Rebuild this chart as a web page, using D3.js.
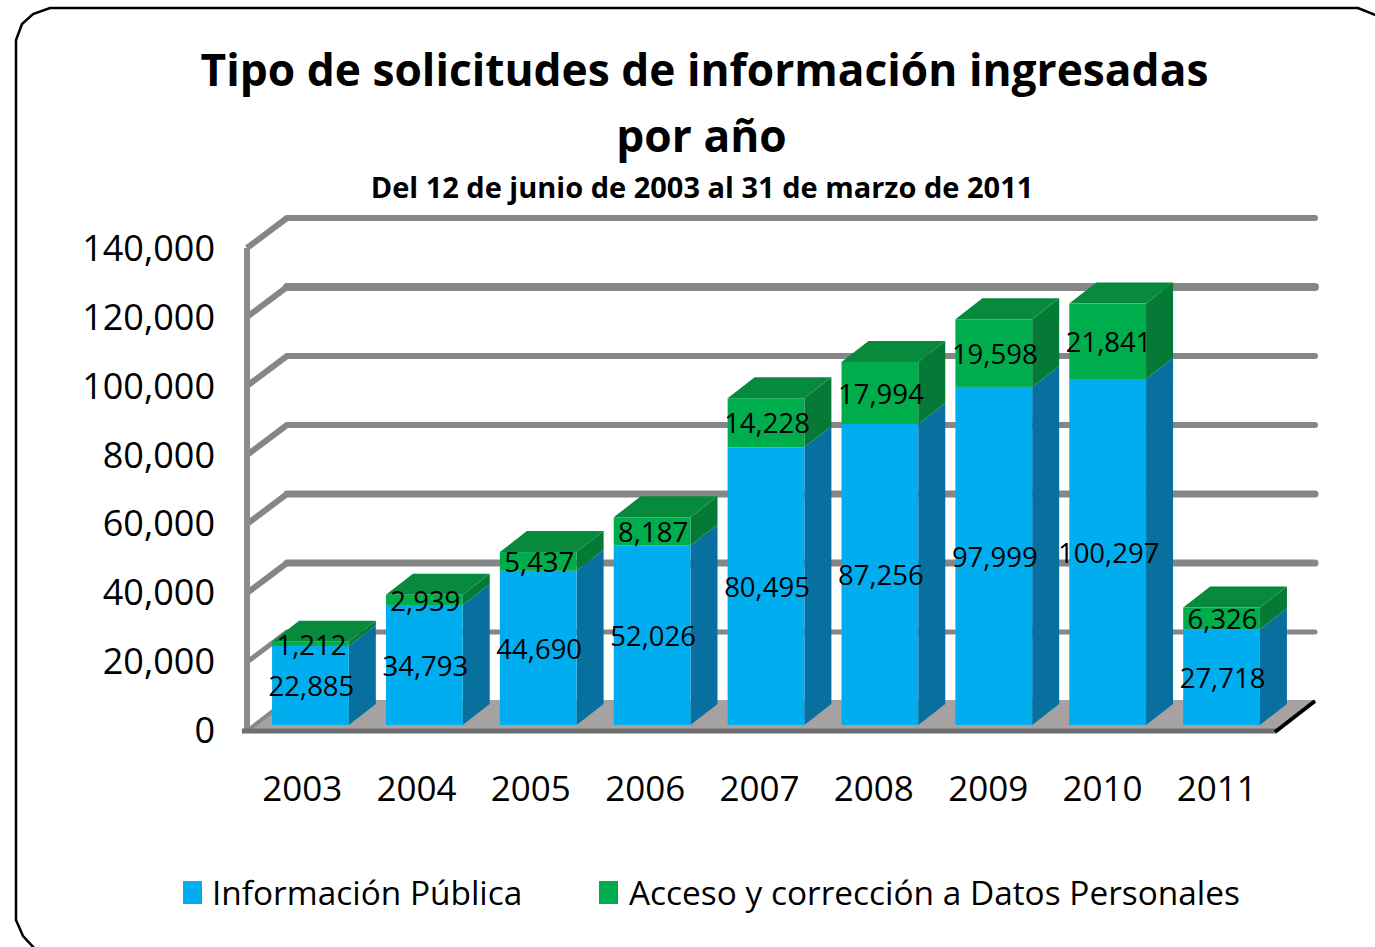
<!DOCTYPE html>
<html><head><meta charset="utf-8">
<script src="https://cdn.jsdelivr.net/npm/d3@7/dist/d3.min.js"></script>
<style>html,body{margin:0;padding:0;background:#fff;overflow:hidden}svg{display:block}</style>
</head><body><svg id="c" width="1375" height="947"></svg>
<script>
const years = ["2003","2004","2005","2006","2007","2008","2009","2010","2011"];
const informacionPublica = [22885,34793,44690,52026,80495,87256,97999,100297,27718];
const accesoCorreccion = [1212,2939,5437,8187,14228,17994,19598,21841,6326];
const yTicks = [0,20000,40000,60000,80000,100000,120000,140000];
const gridWidths = [0,5,7,7,6,6,8,6];
const titleLines = ["Tipo de solicitudes de información ingresadas","por año"];
const subtitle = "Del 12 de junio de 2003 al 31 de marzo de 2011";
const seriesNames = ["Información Pública","Acceso y corrección a Datos Personales"];

const FONT = "'Open Sans','Noto Sans',sans-serif";
const svg = d3.select("#c");
const fmt = d3.format(",");
const depth = {dx:40, dy:-30};
const barDepth = {dx:27, dy:-21};
const y = d3.scaleLinear().domain([0,140000]).range([731,248]);
const yLabel = d3.scaleLinear().domain([0,140000]).range([731,249]);
const x = d3.scaleBand().domain(years).range([247,1276]).paddingInner(0.326).paddingOuter(0.163);
const xBar = d3.scaleBand().domain(years).range([247,1272]).paddingInner(0.326).paddingOuter(0.163);
const barShift = 6.5, barLift = 6;

// frame
svg.append("path").attr("fill","none").attr("stroke","#000").attr("stroke-width",2.5)
  .attr("d","M36 950 L23 936 L16 920 L16 40 L22 24 L33 14 L50 8 L1358 8 L1380 17");

// floor
const floor = d3.line()([[247,731],[1276,731],[1316,700],[287,700]]);
svg.append("path").attr("d",floor+"Z").attr("fill","#a6a2a2");

// gridlines + wall
const grid = svg.append("g").attr("stroke","#868686").attr("fill","none");
yTicks.slice(1).forEach((t,i)=>{
  const w = gridWidths[i+1];
  grid.append("line").attr("x1",247).attr("y1",y(t)).attr("x2",247+depth.dx).attr("y2",y(t)+depth.dy).attr("stroke-width",Math.min(w,6));
  grid.append("line").attr("x1",247+depth.dx).attr("y1",y(t)+depth.dy).attr("x2",1315).attr("y2",y(t)+depth.dy).attr("stroke-width",w).attr("stroke-linecap","round");
});
grid.append("line").attr("x1",247).attr("y1",733).attr("x2",247).attr("y2",y(140000)).attr("stroke-width",6).attr("stroke","#8c8c8c");
grid.append("line").attr("x1",247).attr("y1",731).attr("x2",287).attr("y2",700).attr("stroke-width",4);
svg.append("line").attr("x1",242).attr("y1",731).attr("x2",1276).attr("y2",731).attr("stroke","#6f6f6f").attr("stroke-width",5);
svg.append("line").attr("x1",1275).attr("y1",732).attr("x2",1315).attr("y2",701).attr("stroke","#000").attr("stroke-width",4);

// y axis labels
const yAxis = d3.axisLeft(yLabel).tickValues(yTicks).tickFormat(fmt).tickSize(0).tickPadding(32);
const ya = svg.append("g").attr("transform","translate(247,0)").call(yAxis);
ya.select(".domain").remove();
ya.selectAll("text").attr("font-family",FONT).attr("font-size",36).attr("fill","#000");

// x axis labels
const xAxis = d3.axisBottom(x).tickSize(0).tickPadding(0);
const xa = svg.append("g").attr("transform","translate(-2,776)").call(xAxis);
xa.select(".domain").remove();
xa.selectAll("text").attr("font-family",FONT).attr("font-size",35).attr("fill","#000");

// bars
function box(g, xl, w, yb, yt, cFront, cSide, cTop){
  const d=barDepth;
  g.append("path").attr("fill",cSide).attr("d",d3.line()([[xl+w,yb],[xl+w+d.dx,yb+d.dy],[xl+w+d.dx,yt+d.dy],[xl+w,yt]])+"Z");
  if(cTop) g.append("path").attr("fill",cTop).attr("d",d3.line()([[xl,yt],[xl+d.dx,yt+d.dy],[xl+w+d.dx,yt+d.dy],[xl+w,yt]])+"Z");
  g.append("rect").attr("x",xl).attr("y",yt).attr("width",w).attr("height",yb-yt).attr("fill",cFront);
}
const bars = svg.append("g");
years.forEach((yr,i)=>{
  const g=bars.append("g");
  const xl=xBar(yr)+barShift, w=xBar.bandwidth();
  const a=informacionPublica[i], b=accesoCorreccion[i];
  const Y=v=>y(v)-barLift;
  box(g,xl,w,Y(0),Y(a),"#00aeef","#08709f",null);
  box(g,xl,w,Y(a),Y(a+b),"#00ad4c","#047a36","#078a3c");
});

// data labels
const labels = svg.append("g").attr("font-family",FONT).attr("font-size",27.5).attr("fill","#000").attr("text-anchor","middle");
years.forEach((yr,i)=>{
  const cx=xBar(yr)+barShift+xBar.bandwidth()/2+1;
  const a=informacionPublica[i], b=accesoCorreccion[i];
  labels.append("text").attr("x",cx).attr("y",y(a/2)-barLift+1).attr("dy","0.35em").text(fmt(a));
  labels.append("text").attr("x",cx).attr("y",y(a+b/2)-barLift+1).attr("dy","0.35em").text(fmt(b));
});

// titles
const t = svg.append("g").attr("font-family",FONT).attr("font-weight",700).attr("text-anchor","middle").attr("fill","#000");
titleLines.forEach((s,i)=>t.append("text").attr("x",[704.5,701.5][i]).attr("y",[86,152][i]).attr("font-size",44.3).text(s));
t.append("text").attr("x",702).attr("y",198).attr("font-size",29).text(subtitle);

// legend
const lg = svg.append("g").attr("font-family",FONT).attr("font-size",33.4).attr("fill","#000");
const lx=[183,599], colors=["#00aeef","#00ad4c"], tx=[212,629];
seriesNames.forEach((s,i)=>{
  lg.append("rect").attr("x",lx[i]).attr("y",881).attr("width",19).attr("height",23).attr("fill",colors[i]);
  lg.append("text").attr("x",tx[i]).attr("y",905).text(s);
});
</script></body></html>
